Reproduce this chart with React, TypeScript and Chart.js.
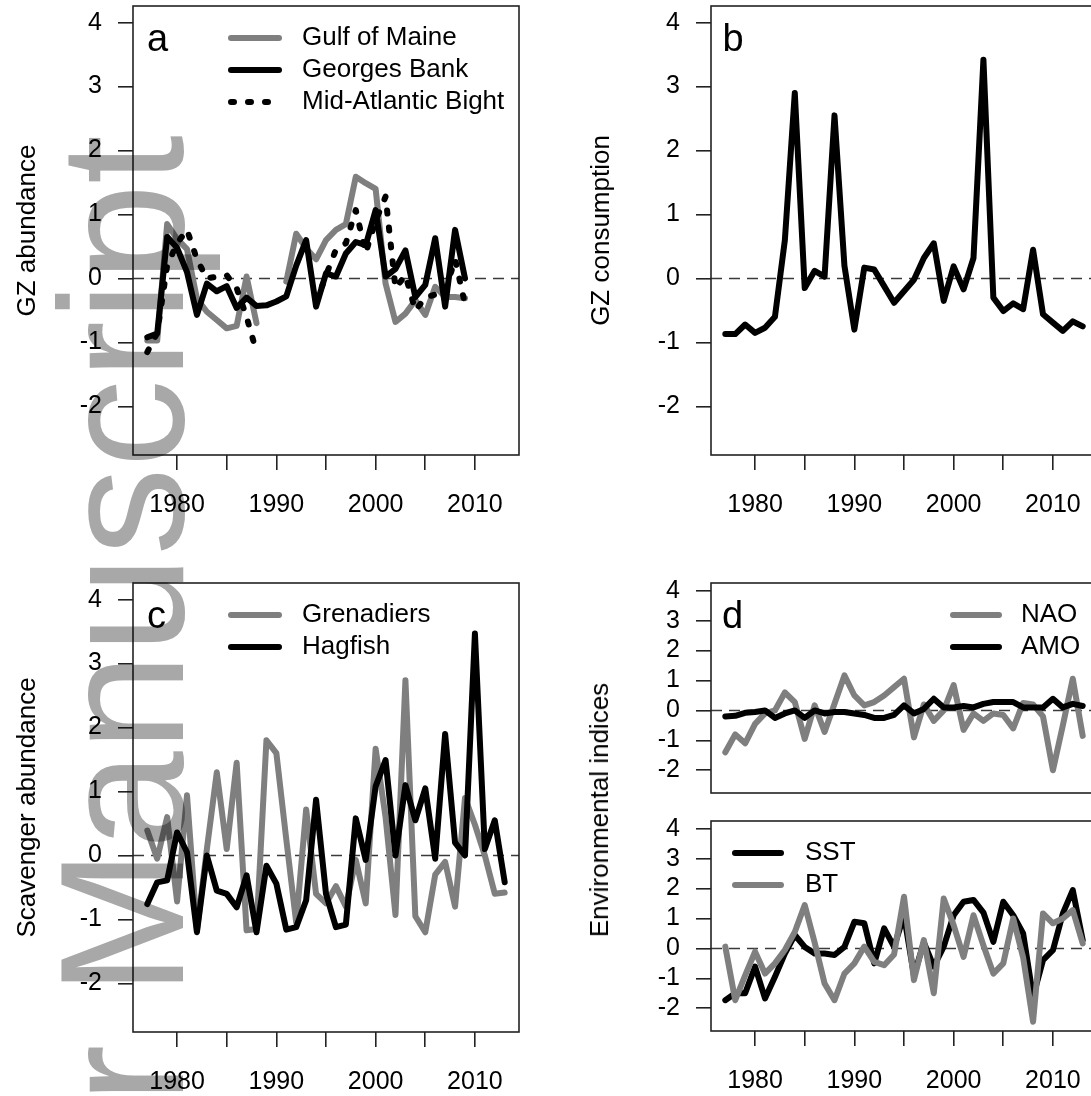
import React, { useEffect, useRef } from 'react';
import { Chart, registerables } from 'chart.js';

Chart.register(...registerables);

const FONT = "'Liberation Sans', Arial, Helvetica, sans-serif";
const GRAY = '#7f7f7f';
const BLACK = '#000000';
const LINE_W = 6;

// ---------- data ----------
const YEARS_A = [1977, 1978, 1979, 1980, 1981, 1982, 1983, 1984, 1985, 1986, 1987, 1988, 1989, 1990, 1991, 1992, 1993,
  1994, 1995, 1996, 1997, 1998, 1999, 2000, 2001, 2002, 2003, 2004, 2005, 2006, 2007, 2008, 2009];
const YEARS = [1977, 1978, 1979, 1980, 1981, 1982, 1983, 1984, 1985, 1986, 1987, 1988, 1989, 1990, 1991, 1992, 1993,
  1994, 1995, 1996, 1997, 1998, 1999, 2000, 2001, 2002, 2003, 2004, 2005, 2006, 2007, 2008, 2009, 2010, 2011, 2012, 2013];

const GULF_OF_MAINE = [-0.97, -0.97, 0.85, 0.62, 0.46, -0.32, -0.52, -0.65, -0.78, -0.74, 0.03, -0.7, null, null,
  -0.05, 0.7, 0.47, 0.3, 0.6, 0.76, 0.85, 1.59, 1.49, 1.4, -0.08, -0.68, -0.55, -0.34, -0.57, -0.13, -0.29, -0.29, -0.31];
const GEORGES_BANK = [-0.92, -0.86, 0.65, 0.48, 0.1, -0.57, -0.08, -0.2, -0.12, -0.46, -0.3, -0.43, -0.42, -0.36,
  -0.28, 0.2, 0.6, -0.44, 0.08, 0.03, 0.39, 0.57, 0.52, 1.07, 0.03, 0.15, 0.44, -0.29, -0.1, 0.63, -0.44, 0.76, 0.0];
const MID_ATLANTIC_BIGHT = [-1.15, -0.85, 0.2, 0.55, 0.76, 0.3, 0.0, 0.03, 0.05, -0.15, -0.6, -1.15, null, null, null,
  null, null, -0.38, 0.05, 0.45, 0.55, 1.07, 0.4, 0.9, 1.28, -0.15, 0.05, -0.5, -0.3, -0.25, -0.2, 0.3, -0.4];

const GZ_CONSUMPTION = [-0.87, -0.87, -0.72, -0.85, -0.77, -0.6, 0.6, 2.9, -0.15, 0.12, 0.03, 2.55, 0.2, -0.8, 0.17,
  0.14, -0.12, -0.38, -0.2, -0.02, 0.32, 0.55, -0.35, 0.19, -0.17, 0.32, 3.42, -0.3, -0.51, -0.39, -0.48, 0.45, -0.56,
  -0.69, -0.82, -0.67, -0.75];

const GRENADIERS = [0.39, -0.05, 0.6, -0.72, 0.94, -1.17, 0.1, 1.3, 0.1, 1.45, -1.17, -1.15, 1.8, 1.6, 0.25, -1.05,
  0.72, -0.6, -0.75, -0.48, -0.8, -0.07, -0.75, 1.67, 0.6, -0.93, 2.74, -0.95, -1.2, -0.3, -0.1, -0.8, 0.9, 0.48, 0.0,
  -0.6, -0.58];
const HAGFISH = [-0.76, -0.42, -0.39, 0.36, 0.05, -1.2, 0.0, -0.55, -0.6, -0.81, -0.31, -1.2, -0.16, -0.44, -1.16,
  -1.12, -0.7, 0.87, -0.6, -1.12, -1.08, 0.58, -0.07, 1.08, 1.49, 0.0, 1.1, 0.55, 1.05, -0.05, 1.9, 0.2, 0.0, 3.47, 0.1,
  0.55, -0.42];

const NAO = [-1.4, -0.8, -1.1, -0.45, -0.1, 0.0, 0.6, 0.28, -0.95, 0.17, -0.72, 0.22, 1.17, 0.5, 0.17, 0.28, 0.5, 0.78,
  1.06, -0.9, 0.2, -0.35, 0.0, 0.85, -0.65, -0.1, -0.35, -0.1, -0.15, -0.6, 0.25, 0.2, -0.2, -2.0, -0.5, 1.06, -0.85];
const AMO = [-0.2, -0.18, -0.08, -0.05, 0.0, -0.25, -0.1, 0.0, -0.25, 0.0, -0.1, -0.05, -0.05, -0.1, -0.15, -0.25, -0.25,
  -0.15, 0.17, -0.1, 0.05, 0.39, 0.1, 0.1, 0.15, 0.1, 0.22, 0.28, 0.28, 0.28, 0.1, 0.1, 0.1, 0.39, 0.1, 0.22, 0.15];

const SST = [-1.73, -1.5, -1.5, -0.61, -1.67, -0.95, -0.17, 0.45, 0.05, -0.17, -0.17, -0.22, 0.05, 0.89, 0.84, -0.5,
  0.67, 0.05, 1.11, -0.9, 0.2, -0.61, 0.06, 1.11, 1.56, 1.62, 1.2, 0.22, 1.56, 1.11, 0.5, -1.62, -0.39, -0.06, 1.17,
  1.95, 0.28];
const BT = [0.06, -1.73, -0.9, -0.11, -0.84, -0.5, -0.05, 0.55, 1.45, 0.2, -1.17, -1.73, -0.84, -0.5, 0.06, -0.45,
  -0.56, -0.2, 1.73, -1.06, 0.28, -1.5, 1.67, 0.78, -0.28, 1.11, 0.1, -0.84, -0.5, 1.0, -0.3, -2.45, 1.17, 0.84, 1.0,
  1.28, 0.17];

const X_TICKS = [1980, 1985, 1990, 1995, 2000, 2005, 2010];
const X_TICK_LABELS = ['1980', '', '1990', '', '2000', '', '2010'];
const Y_TICKS = [-2, -1, 0, 1, 2, 3, 4];
const Y_TICK_LABELS = ['-2', '-1', '0', '1', '2', '3', '4'];

const X_MIN = 1975.56;
const X_MAX = 2014.44;
const Y_MIN = -2.76;
const Y_MAX = 4.26;

// ---------- panel specs ----------
type Series = { label: string; years: number[]; values: (number | null)[]; color: string; dash?: number[]; order: number };
type Panel = {
  key: string;
  left: number; top: number; width: number; height: number;
  padding: { top: number; right: number; bottom: number; left: number };
  yAxisWidth: number;
  xAxisHeight: number | null;
  yTitle?: string;
  yTitlePad?: number;
  letter: string;
  letterDx: number;
  legend: { lineX0: number; lineX1: number; textX: number; rowY: number[] };
  series: Series[];
};

const DOT = [3, 14];

const PANELS: Panel[] = [
  {
    key: 'a', left: 0, top: 0, width: 545, height: 540,
    padding: { top: 6, right: 26, bottom: 0, left: 0 },
    yAxisWidth: 133, xAxisHeight: 85,
    yTitle: 'GZ abundance', yTitlePad: 12,
    letter: 'a', letterDx: 14,
    legend: { lineX0: 98, lineX1: 146, textX: 169, rowY: [32, 64, 96] },
    series: [
      { label: 'Gulf of Maine', years: YEARS_A, values: GULF_OF_MAINE, color: GRAY, order: 3 },
      { label: 'Georges Bank', years: YEARS_A, values: GEORGES_BANK, color: BLACK, order: 1 },
      { label: 'Mid-Atlantic Bight', years: YEARS_A, values: MID_ATLANTIC_BIGHT, color: BLACK, dash: DOT, order: 2 },
    ],
  },
  {
    key: 'b', left: 545, top: 0, width: 560, height: 540,
    padding: { top: 6, right: 8, bottom: 0, left: 0 },
    yAxisWidth: 166, xAxisHeight: 85,
    yTitle: 'GZ consumption', yTitlePad: 41,
    letter: 'b', letterDx: 11.5,
    legend: { lineX0: 0, lineX1: 0, textX: 0, rowY: [] },
    series: [
      { label: 'GZ consumption', years: YEARS, values: GZ_CONSUMPTION, color: BLACK, order: 1 },
    ],
  },
  {
    key: 'c', left: 0, top: 545, width: 545, height: 551,
    padding: { top: 38, right: 26, bottom: 0, left: 0 },
    yAxisWidth: 133, xAxisHeight: 64,
    yTitle: 'Scavenger abundance', yTitlePad: 12,
    letter: 'c', letterDx: 14,
    legend: { lineX0: 98, lineX1: 146, textX: 169, rowY: [32, 64] },
    series: [
      { label: 'Grenadiers', years: YEARS, values: GRENADIERS, color: GRAY, order: 2 },
      { label: 'Hagfish', years: YEARS, values: HAGFISH, color: BLACK, order: 1 },
    ],
  },
  {
    key: 'd1', left: 545, top: 545, width: 560, height: 260,
    padding: { top: 38, right: 8, bottom: 12, left: 0 },
    yAxisWidth: 166, xAxisHeight: null,
    letter: 'd', letterDx: 11,
    legend: { lineX0: 242, lineX1: 288, textX: 310, rowY: [32, 64] },
    series: [
      { label: 'NAO', years: YEARS, values: NAO, color: GRAY, order: 2 },
      { label: 'AMO', years: YEARS, values: AMO, color: BLACK, order: 1 },
    ],
  },
  {
    key: 'd2', left: 545, top: 805, width: 560, height: 291,
    padding: { top: 16, right: 8, bottom: 0, left: 0 },
    yAxisWidth: 166, xAxisHeight: 65,
    letter: '', letterDx: 0,
    legend: { lineX0: 24, lineX1: 70, textX: 94, rowY: [32, 64] },
    series: [
      { label: 'SST', years: YEARS, values: SST, color: BLACK, order: 2 },
      { label: 'BT', years: YEARS, values: BT, color: GRAY, order: 1 },
    ],
  },
];

// ---------- plugin: box, zero line, panel letter, legend ----------
const decorPlugin = {
  id: 'decor',
  beforeDatasetsDraw(chart: any) {
    const { ctx, chartArea: a, scales } = chart;
    const y0 = scales.y.getPixelForValue(0);
    ctx.save();
    ctx.beginPath();
    ctx.rect(a.left, a.top, a.right - a.left, a.bottom - a.top);
    ctx.clip();
    ctx.strokeStyle = '#3a3a3a';
    ctx.lineWidth = 1.6;
    ctx.setLineDash([11, 7]);
    ctx.beginPath();
    ctx.moveTo(a.left, y0);
    ctx.lineTo(a.right, y0);
    ctx.stroke();
    ctx.restore();
  },
  afterDraw(chart: any, _args: any, opts: any) {
    const { ctx, chartArea: a } = chart;
    ctx.save();
    ctx.setLineDash([]);
    ctx.strokeStyle = '#222';
    ctx.lineWidth = 1.6;
    ctx.strokeRect(a.left, a.top, a.right - a.left, a.bottom - a.top);
    if (opts.letter) {
      ctx.fillStyle = '#000';
      ctx.font = `38px ${FONT}`;
      ctx.textAlign = 'left';
      ctx.textBaseline = 'alphabetic';
      ctx.fillText(opts.letter, a.left + opts.letterDx, a.top + 45);
    }
    const lg = opts.legend;
    (opts.items || []).forEach((it: any, i: number) => {
      const y = a.top + lg.rowY[i];
      ctx.save();
      ctx.strokeStyle = it.color;
      ctx.lineWidth = LINE_W;
      ctx.lineCap = 'round';
      ctx.setLineDash(it.dash || []);
      ctx.beginPath();
      ctx.moveTo(a.left + lg.lineX0, y);
      ctx.lineTo(a.left + lg.lineX1, y);
      ctx.stroke();
      ctx.restore();
      ctx.fillStyle = '#000';
      ctx.font = `26px ${FONT}`;
      ctx.textAlign = 'left';
      ctx.textBaseline = 'middle';
      ctx.fillText(it.label, a.left + lg.textX, y);
    });
    ctx.restore();
  },
};

function zeroPad(s: any) {
  s.paddingTop = 0;
  s.paddingBottom = 0;
  s.paddingLeft = 0;
  s.paddingRight = 0;
}

function makeConfig(p: Panel): any {
  const tickGrid = {
    display: true,
    drawOnChartArea: false,
    drawTicks: true,
    tickLength: 15,
    color: '#222',
    tickColor: '#222',
    lineWidth: 1.6,
    tickWidth: 1.6,
  };
  return {
    type: 'line',
    data: {
      datasets: p.series.map((s) => ({
        label: s.label,
        data: s.years.map((x, i) => ({ x, y: s.values[i] })),
        borderColor: s.color,
        backgroundColor: s.color,
        borderWidth: LINE_W,
        borderDash: s.dash || [],
        borderCapStyle: 'round',
        borderJoinStyle: 'round',
        pointRadius: 0,
        pointHoverRadius: 0,
        pointHitRadius: 0,
        tension: 0,
        spanGaps: false,
        fill: false,
        order: s.order,
      })),
    },
    options: {
      responsive: false,
      maintainAspectRatio: false,
      animation: false,
      events: [],
      devicePixelRatio: 1,
      layout: { autoPadding: false, padding: p.padding },
      plugins: {
        legend: { display: false },
        tooltip: { enabled: false },
        title: { display: false },
        decor: {
          letter: p.letter,
          letterDx: p.letterDx,
          legend: p.legend,
          items: p.legend.rowY.length > 0 ? p.series.map((s) => ({ label: s.label, color: s.color, dash: s.dash })) : [],
        },
      },
      scales: {
        x: {
          type: 'linear',
          min: X_MIN,
          max: X_MAX,
          display: p.xAxisHeight !== null,
          afterBuildTicks: (s: any) => { s.ticks = X_TICKS.map((v) => ({ value: v })); },
          afterFit: (s: any) => { if (p.xAxisHeight !== null) s.height = p.xAxisHeight; zeroPad(s); },
          grid: tickGrid,
          border: { display: false },
          ticks: {
            autoSkip: false,
            maxRotation: 0,
            minRotation: 0,
            padding: 20,
            color: '#000',
            font: { family: FONT, size: 25 },
            callback: (v: any) => { const i = X_TICKS.indexOf(Number(v)); return i >= 0 ? X_TICK_LABELS[i] : ''; },
          },
        },
        y: {
          type: 'linear',
          min: Y_MIN,
          max: Y_MAX,
          afterBuildTicks: (s: any) => { s.ticks = Y_TICKS.map((v) => ({ value: v })); },
          afterFit: (s: any) => { s.width = p.yAxisWidth; zeroPad(s); },
          grid: tickGrid,
          border: { display: false },
          ticks: {
            autoSkip: false,
            padding: 16,
            color: '#000',
            font: { family: FONT, size: 25 },
            callback: (v: any) => { const i = Y_TICKS.indexOf(Number(v)); return i >= 0 ? Y_TICK_LABELS[i] : ''; },
          },
          title: p.yTitle
            ? { display: true, text: p.yTitle, color: '#000', font: { family: FONT, size: 26 }, padding: { top: p.yTitlePad, bottom: 0 } }
            : { display: false },
        },
      },
    },
    plugins: [decorPlugin],
  };
}

function PanelCanvas({ p }: { p: Panel }) {
  const ref = useRef<HTMLCanvasElement | null>(null);
  useEffect(() => {
    if (!ref.current) return;
    const chart = new Chart(ref.current, makeConfig(p));
    return () => chart.destroy();
  }, [p]);
  return (
    <canvas
      ref={ref}
      width={p.width}
      height={p.height}
      style={{ position: 'absolute', left: p.left, top: p.top, width: p.width, height: p.height }}
    />
  );
}

export default function App() {
  return (
    <div
      style={{
        position: 'absolute', left: 0, top: 0, width: 1091, height: 1096,
        overflow: 'hidden', background: '#ffffff', isolation: 'isolate',
      }}
    >
      {PANELS.map((p) => <PanelCanvas key={p.key} p={p} />)}
      <div
        style={{
          position: 'absolute', left: 599, top: 810,
          transform: 'translate(-50%, -50%) rotate(-90deg)',
          whiteSpace: 'nowrap', fontFamily: FONT, fontSize: 26, lineHeight: '26px', color: '#000',
        }}
      >
        Environmental indices
      </div>
      <div
        style={{
          position: 'absolute', left: 0, top: 0, width: 2000,
          whiteSpace: 'nowrap', textAlign: 'right',
          fontFamily: FONT, fontSize: 176, lineHeight: '176px', color: 'rgb(168,168,168)',
          transformOrigin: '0 0', transform: 'translate(34px, 2135px) rotate(-90deg)',
          mixBlendMode: 'multiply', pointerEvents: 'none',
        }}
      >
        Author Manuscript
      </div>
    </div>
  );
}
